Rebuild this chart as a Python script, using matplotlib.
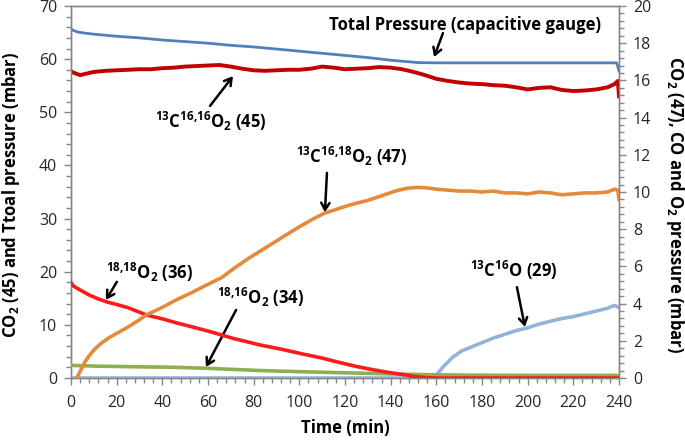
import matplotlib
matplotlib.use('Agg')
import matplotlib.pyplot as plt
from matplotlib.ticker import MultipleLocator

plt.rcParams['font.family'] = ['Open Sans', 'DejaVu Sans']
plt.rcParams['mathtext.fontset'] = 'custom'
plt.rcParams['mathtext.rm'] = 'Open Sans:bold'
plt.rcParams['mathtext.bf'] = 'Open Sans:bold'
plt.rcParams['mathtext.it'] = 'Open Sans:bold'
plt.rcParams['mathtext.default'] = 'bf'

# ---------------- data ----------------
# Total pressure (left axis, mbar)
t_total = [0, 1, 3, 6, 10, 20, 30, 40, 50, 60, 70, 80, 90, 100, 110, 120, 130, 140, 148, 152,
           160, 180, 200, 220, 239, 240]
v_total = [65.7, 65.4, 65.1, 64.9, 64.7, 64.3, 64.0, 63.6, 63.3, 63.0, 62.6, 62.3, 61.9, 61.5,
           61.1, 60.7, 60.3, 59.8, 59.5, 59.35, 59.3, 59.3, 59.3, 59.3, 59.3, 57.8]

# 13C16,16O2 (45) (left axis, mbar)
t_45 = [0, 2, 4, 6, 10, 15, 20, 25, 30, 35, 40, 45, 50, 55, 60, 65, 70, 75, 80, 85, 90, 95,
        100, 105, 110, 115, 120, 125, 130, 135, 140, 145, 150, 155, 160, 165, 170, 175, 180,
        185, 190, 195, 200, 205, 210, 215, 220, 225, 230, 235, 238, 239.5, 240]
v_45 = [57.7, 57.3, 57.0, 57.2, 57.6, 57.8, 57.9, 58.0, 58.1, 58.1, 58.3, 58.4, 58.6, 58.7,
        58.8, 58.9, 58.6, 58.2, 57.9, 57.8, 57.9, 58.0, 58.0, 58.2, 58.6, 58.4, 58.1, 58.2,
        58.3, 58.5, 58.4, 58.1, 57.6, 57.0, 56.3, 55.9, 55.6, 55.4, 55.3, 55.1, 55.0, 54.7,
        54.3, 54.6, 54.7, 54.2, 54.0, 54.1, 54.3, 54.7, 55.3, 55.9, 53.0]

# 13C16,18O2 (47) (right axis, mbar)
t_47 = [2.5, 4, 6, 8, 10, 13, 17, 20, 24, 29, 33, 40, 46, 53, 61, 66, 72, 78, 86, 93, 100,
        106, 111, 117, 122, 130, 137, 142, 147, 152, 156, 160, 165, 170, 175, 180, 185, 190,
        195, 200, 205, 210, 215, 220, 225, 230, 235, 238, 239.5, 240]
v_47 = [0.0, 0.35, 0.85, 1.2, 1.5, 1.85, 2.19, 2.4, 2.67, 3.05, 3.39, 3.8, 4.19, 4.6, 5.1,
        5.4, 5.95, 6.45, 7.06, 7.6, 8.13, 8.55, 8.86, 9.1, 9.3, 9.55, 9.84, 10.05, 10.2, 10.25,
        10.22, 10.15, 10.1, 10.05, 10.05, 10.0, 10.05, 9.95, 9.95, 9.9, 10.0, 9.95, 9.85, 9.9,
        9.95, 9.95, 10.0, 10.15, 10.1, 9.6]

# 18,18O2 (36) (right axis, mbar)
t_36 = [0, 1, 4, 8, 12, 16, 20, 25, 33, 40, 46, 53, 61, 71, 83, 92, 100, 110, 118, 125, 132,
        138, 144, 150, 155, 160, 240]
v_36 = [5.12, 4.95, 4.73, 4.46, 4.25, 4.08, 3.95, 3.78, 3.39, 3.18, 2.97, 2.75, 2.49, 2.13,
        1.77, 1.55, 1.33, 1.07, 0.82, 0.62, 0.45, 0.32, 0.21, 0.09, 0.02, 0.0, 0.0]

# 18,16O2 (34) (right axis, mbar)
t_34 = [0, 10, 20, 30, 44, 60, 83, 100, 120, 140, 160, 180, 200, 220, 240]
v_34 = [0.68, 0.64, 0.62, 0.60, 0.58, 0.52, 0.40, 0.34, 0.28, 0.22, 0.17, 0.15, 0.14, 0.14, 0.14]

# 13C16O (29) (right axis, mbar)
t_29 = [0, 158, 160, 163, 167, 171, 175, 180, 185, 190, 195, 200, 205, 210, 215, 220, 225,
        230, 235, 238, 240]
v_29 = [0.0, 0.0, 0.15, 0.6, 1.1, 1.45, 1.65, 1.9, 2.15, 2.35, 2.55, 2.7, 2.9, 3.05, 3.2,
        3.3, 3.45, 3.6, 3.75, 3.9, 3.8]

x_ticks = list(range(0, 241, 20))
y_left_ticks = list(range(0, 71, 10))
y_right_ticks = list(range(0, 21, 2))

# ---------------- figure ----------------
W, H = 685, 441
fig = plt.figure(figsize=(W / 100, H / 100), dpi=100)
ax = fig.add_axes([71 / W, 1 - 378 / H, (619 - 71) / W, (378 - 6) / H])
ax2 = ax.twinx()

c_total = '#4F81BD'
c_45 = '#C00000'
c_47 = '#E48A3C'
c_36 = '#FF1A1A'
c_34 = '#8CB050'
c_29 = '#95B3D7'

ax2.plot(t_29, v_29, color=c_29, lw=2.6, zorder=2)
ax2.plot(t_34, v_34, color=c_34, lw=2.6, zorder=3)
ax2.plot(t_36, v_36, color=c_36, lw=2.6, zorder=4)
ax2.plot(t_47, v_47, color=c_47, lw=2.6, zorder=5)
ax.plot(t_total, v_total, color=c_total, lw=2.0, zorder=3)
ax.plot(t_45, v_45, color=c_45, lw=2.8, zorder=4)

ax.set_xlim(0, 240)
ax.set_ylim(0, 70)
ax2.set_ylim(0, 20)
ax.set_xticks(x_ticks)
ax.set_yticks(y_left_ticks)
ax2.set_yticks(y_right_ticks)
ax.xaxis.set_minor_locator(MultipleLocator(4))
ax.yaxis.set_minor_locator(MultipleLocator(2))
ax2.yaxis.set_minor_locator(MultipleLocator(0.4))

spine_c = '#868686'
for a in (ax, ax2):
    for s in a.spines.values():
        s.set_color(spine_c)
        s.set_linewidth(1.0)
    a.tick_params(which='major', direction='out', length=5, width=1, color=spine_c,
                  labelsize=11.5, labelcolor='#262626')
    a.tick_params(which='minor', direction='out', length=3.5, width=1, color=spine_c)
ax.tick_params(axis='x', pad=7)
ax.tick_params(axis='y', pad=5)
ax2.tick_params(axis='y', pad=5)

# axis labels
lab_fs = 12
fig.text(345 / W, 1 - 428 / H, 'Time (min)', ha='center', va='center',
         fontsize=lab_fs, fontweight='bold')
fig.text(11 / W, 1 - 195 / H, 'CO$_2$ (45) and Ttoal pressure (mbar)', ha='center',
         va='center', rotation=90, fontsize=lab_fs, fontweight='bold')
fig.text(675 / W, 1 - 205 / H, 'CO$_2$ (47), CO and O$_2$ pressure (mbar)', ha='center',
         va='center', rotation=270, fontsize=lab_fs, fontweight='bold')

# annotations (left axis data coordinates)
aprops = dict(arrowstyle='->,head_length=0.5,head_width=0.3', color='black', lw=1.8,
              shrinkA=0, shrinkB=0)
fs = 12
labels = [
    ('Total Pressure (capacitive gauge)', (172.6, 66.4), (162.9, 64.9), (159.0, 60.4)),
    ('$^{13}$C$^{16{,}16}$O$_2$ (45)', (61.3, 48.2), (60.9, 51.2), (70.95, 56.8)),
    ('$^{13}$C$^{16{,}18}$O$_2$ (47)', (123.0, 41.6), (112.1, 38.6), (111.2, 31.2)),
    ('$^{18{,}18}$O$_2$ (36)', (34.2, 19.8), (20.1, 18.1), (15.3, 14.7)),
    ('$^{18{,}16}$O$_2$ (34)', (82.8, 15.1), (72.3, 12.8), (59.1, 2.07)),
    ('$^{13}$C$^{16}$O (29)', (194.0, 20.3), (195.3, 17.1), (198.8, 9.6)),
]
for txt, pos, tail, tip in labels:
    ax.text(pos[0], pos[1], txt, ha='center', va='center', fontsize=fs,
            fontweight='bold', zorder=10)
    ax.annotate('', xy=tip, xytext=tail, arrowprops=aprops, zorder=10)

fig.savefig('out.png', dpi=100)
